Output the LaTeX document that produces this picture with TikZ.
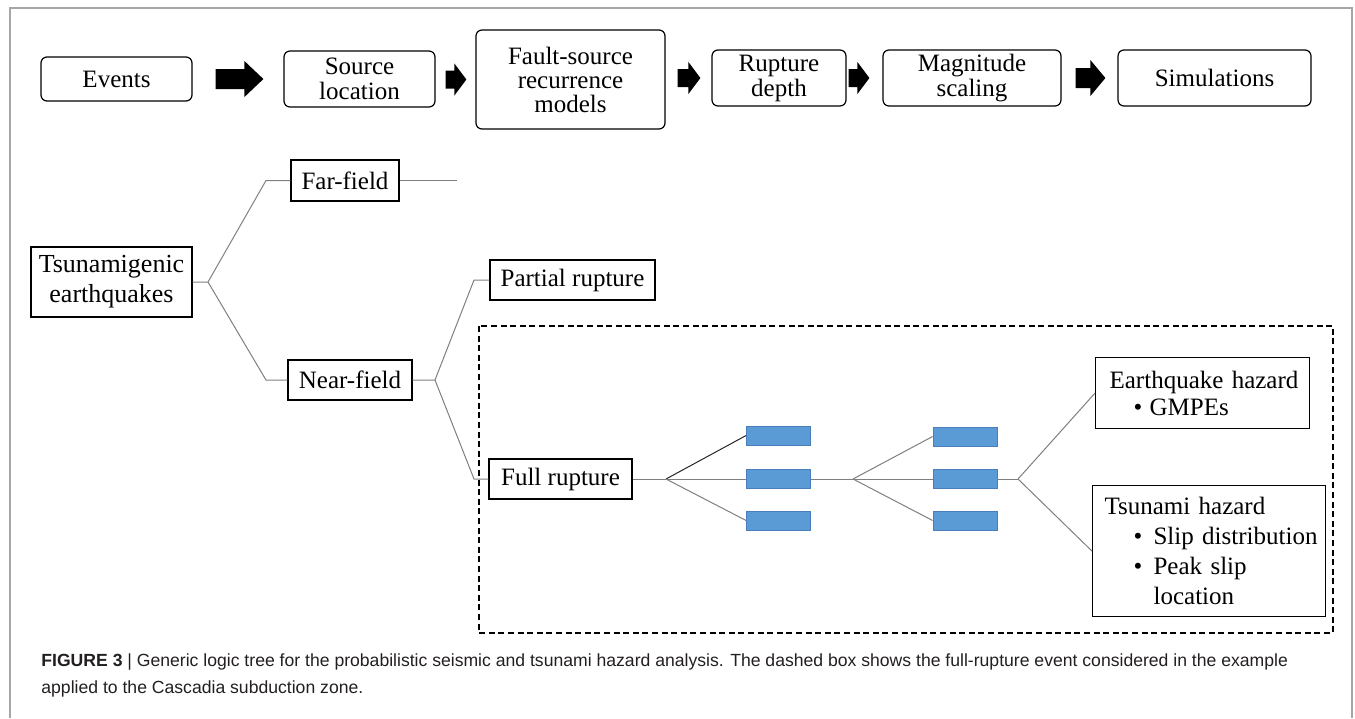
\documentclass[tikz,border=0pt]{standalone}
\usepackage{fontspec}
\setmainfont{Liberation Serif}
\newfontfamily\capfont{Liberation Sans}
\usepackage{tikz}
\usetikzlibrary{positioning,calc}

\definecolor{boxblue}{HTML}{5B9BD5}
\definecolor{boxedge}{HTML}{4A7EBB}
\definecolor{treegray}{HTML}{7F7F7F}
\definecolor{framegray}{HTML}{A6A6A6}
\definecolor{captext}{HTML}{231F20}

% filled block arrow between two nodes: from, to, gap left, gap right, head length, half head, half shaft
\newcommand{\blockarrow}[7]{%
    \coordinate (as) at ($(#1.east |- #2.west)+(#3,0)$);
    \coordinate (ae) at ($(#2.west)-(#4,0)$);
    \fill ($(as)+(0,-#7)$) -- ($(ae)+(-#5,-#7)$) -- ($(ae)+(-#5,-#6)$) -- (ae)
        -- ($(ae)+(-#5,#6)$) -- ($(ae)+(-#5,#7)$) -- ($(as)+(0,#7)$) -- cycle;
}

\begin{document}
\begin{tikzpicture}[x=0.5pt, y=-0.5pt,
    stepbox/.style={draw, rounded corners=3pt, line width=0.6pt, align=center, inner sep=0pt,
        font=\fontsize{12.5}{12.5}\selectfont},
    treebox/.style={draw, line width=0.6pt, align=center, inner sep=0pt,
        font=\fontsize{12.5}{15}\selectfont},
    hazbox/.style={draw, line width=0.6pt, anchor=north west, inner ysep=0pt, align=left},
    bluebox/.style={draw=boxedge, fill=boxblue, line width=0.4pt, minimum width=32pt,
        minimum height=9.5pt, inner sep=0pt},
    branch/.style={draw=treegray, line width=0.5pt}]
    \useasboundingbox (0,0) rectangle (1355,718);
    \draw[framegray, line width=1pt] (9.5,718) -- (9.5,8) -- (1352,8) -- (1352,718);

    % top row
    \node[stepbox, minimum width=75.5pt, minimum height=22pt] (events) at (116.5,79) {Events};
    \node[stepbox, minimum width=75.5pt, minimum height=28pt] (srcloc) at (359.5,79) {Source\\location};
    \node[stepbox, minimum width=94.5pt, minimum height=49.5pt, font=\fontsize{12.5}{12}\selectfont]
        (recur) at (570.5,79.5) {Fault-source\\recurrence\\models};
    \node[stepbox, minimum width=67pt, minimum height=28pt] (depth) at (779,78) {Rupture\\depth};
    \node[stepbox, minimum width=89pt, minimum height=28pt] (magscale) at (972,78) {Magnitude\\scaling};
    \node[stepbox, minimum width=96.5pt, minimum height=28pt] (sims) at (1214.5,78) {Simulations};

    \blockarrow{events}{srcloc}{23}{20}{19}{18}{10}
    \blockarrow{srcloc}{recur}{10}{9}{12}{16}{9}
    \blockarrow{recur}{depth}{12}{11}{12}{16}{9}
    \blockarrow{depth}{magscale}{2}{13}{12}{16}{9}
    \blockarrow{magscale}{sims}{14}{12}{15}{18}{10}

    % logic tree
    \node[treebox, minimum width=80.5pt, minimum height=35pt, font=\fontsize{13}{15}\selectfont]
        (tsu) at (111.5,282) {Tsunamigenic\\earthquakes};
    \node[treebox, minimum width=54pt, minimum height=20.5pt] (far) at (345,180.5) {Far-field};
    \node[treebox, minimum width=62pt, minimum height=20pt] (near) at (350,380) {Near-field};
    \node[treebox, minimum width=82.5pt, minimum height=20pt] (partial) at (572.5,280) {Partial rupture};
    \node[treebox, minimum width=71.5pt, minimum height=20pt] (full) at (560.5,479) {Full rupture};

    \draw[dashed, dash pattern=on 3pt off 1.8pt, line width=0.6pt] (479,326) rectangle (1333,633);

    \node[bluebox] (p1) at (778.5,435.5) {};
    \node[bluebox] (p2) at (778.5,479) {};
    \node[bluebox] (p3) at (778.5,520.5) {};
    \node[bluebox] (q1) at (965,436.5) {};
    \node[bluebox] (q2) at (965,479) {};
    \node[bluebox] (q3) at (965,520.5) {};

    \node[hazbox, minimum width=107pt, minimum height=35.5pt, inner xsep=7pt, text width=93pt,
        font=\fontsize{12.5}{13.5}\selectfont] (quake) at (1095,357)
        {\mbox{Earthquake hazard}\\
         \mbox{\hspace*{12pt}\makebox[8pt][l]{\textbullet}GMPEs}};
    \node[hazbox, minimum width=116.5pt, minimum height=65.5pt, inner xsep=6pt, text width=104.5pt,
        font=\fontsize{12.5}{15}\selectfont] (tsuhaz) at (1092,485)
        {\mbox{Tsunami hazard}\\
         \mbox{\hspace*{14.5pt}\makebox[10pt][l]{\textbullet}Slip distribution}\\
         \mbox{\hspace*{14.5pt}\makebox[10pt][l]{\textbullet}Peak slip}\\
         \mbox{\hspace*{24.5pt}location}};

    \coordinate (t0) at (208,282);
    \coordinate (farend) at (457,180.5);
    \coordinate (n0) at (435,380);
    \coordinate (b1) at (666,479);
    \coordinate (b2) at (853,479);
    \coordinate (b3) at (1018,479);

    \draw[branch] (tsu.east) -- (t0) -- (266,180.5) -- (far.west);
    \draw[branch] (t0) -- (266,380) -- (near.west);
    \draw[branch] (far.east) -- (farend);
    \draw[branch] (near.east) -- (n0) -- (474,280) -- (partial.west);
    \draw[branch] (n0) -- (474,479) -- (full.west);
    \draw[branch] (full.east) -- (b1);
    \draw[branch, draw=black!85] (b1) -- (p1.west);
    \draw[branch] (b1) -- (p2.west);
    \draw[branch] (b1) -- (p3.west);
    \draw[branch] (p2.east) -- (b2);
    \foreach \i in {1,2,3} {
        \draw[branch] (b2) -- (q\i.west);
    }
    \draw[branch] (q2.east) -- (b3);
    \draw[branch] (b3) -- (quake.west);
    \draw[branch] (b3) -- (tsuhaz.west);

    % caption
    \node[anchor=north west, align=left, inner sep=0pt, text=captext,
        font=\capfont\fontsize{8.8}{13.5}\selectfont] (caption) at (41,653)
        {\textbf{FIGURE 3} | Generic logic tree for the probabilistic seismic and tsunami hazard analysis. The dashed box shows the full-rupture event considered in the example\\
         applied to the Cascadia subduction zone.};
\end{tikzpicture}
\end{document}
